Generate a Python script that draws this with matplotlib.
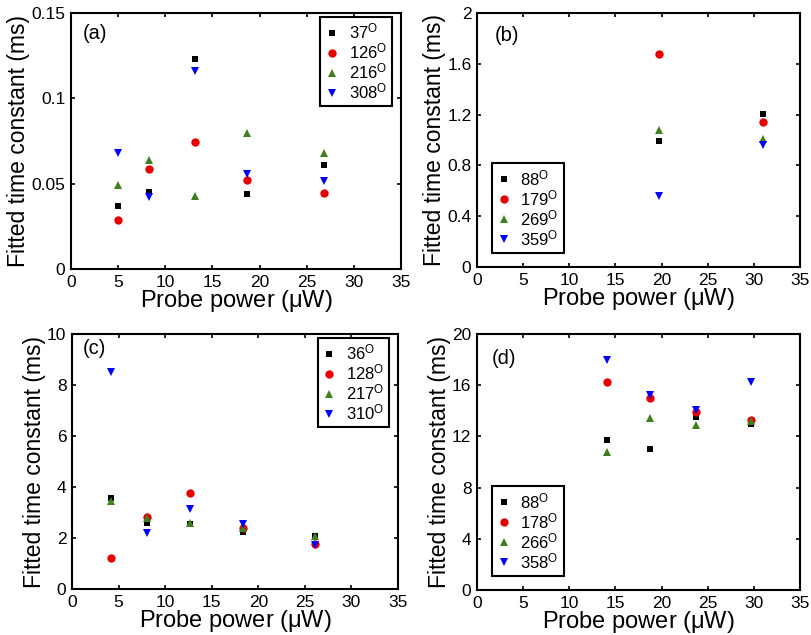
import matplotlib
matplotlib.use("Agg")
import matplotlib.pyplot as plt

plt.rcParams['font.family'] = ['Liberation Sans', 'DejaVu Sans']
plt.rcParams['mathtext.fontset'] = 'custom'
plt.rcParams['mathtext.rm'] = 'Liberation Sans'
plt.rcParams['mathtext.it'] = 'Liberation Sans'

# --- data ---
# panel (a)
a_x = [5.0, 8.3, 13.2, 18.7, 26.8]
a_37 = [0.037, 0.045, 0.123, 0.044, 0.061]
a_126 = [0.0286, 0.0586, 0.0744, 0.052, 0.0448]
a_216 = [0.049, 0.064, 0.0427, 0.0795, 0.0677]
a_308 = [0.068, 0.042, 0.116, 0.0559, 0.0514]
a_angles = ['37', '126', '216', '308']
a_yticks = [0, 0.05, 0.1, 0.15]
a_yticklabels = ['0', '0.05', '0.1', '0.15']

# panel (b)
b_x = [19.74, 30.94]
b_88 = [0.99, 1.207]
b_179 = [1.677, 1.139]
b_269 = [1.076, 1.008]
b_359 = [0.556, 0.958]
b_angles = ['88', '179', '269', '359']
b_yticks = [0, 0.4, 0.8, 1.2, 1.6, 2]
b_yticklabels = ['0', '0.4', '0.8', '1.2', '1.6', '2']

# panel (c)
c_x = [4.24, 8.08, 12.63, 18.34, 26.1]
c_36 = [3.56, 2.6, 2.54, 2.23, 2.07]
c_128 = [1.22, 2.84, 3.76, 2.41, 1.78]
c_217 = [3.46, 2.8, 2.58, 2.38, 2.09]
c_310 = [8.51, 2.21, 3.13, 2.55, 1.73]
c_angles = ['36', '128', '217', '310']
c_yticks = [0, 2, 4, 6, 8, 10]
c_yticklabels = ['0', '2', '4', '6', '8', '10']

# panel (d)
d_x = [14.14, 18.74, 23.76, 29.68]
d_88 = [11.68, 11.0, 13.48, 12.96]
d_178 = [16.22, 14.97, 13.87, 13.3]
d_266 = [10.82, 13.4, 12.9, 13.19]
d_358 = [17.97, 15.25, 14.08, 16.22]
d_angles = ['88', '178', '266', '358']
d_yticks = [0, 4, 8, 12, 16, 20]
d_yticklabels = ['0', '4', '8', '12', '16', '20']

x_ticks = [0, 5, 10, 15, 20, 25, 30, 35]

# --- styles ---
styles = [
    dict(marker='s', color='black', ms=5),
    dict(marker='o', color='#e60000', ms=6),
    dict(marker='^', color='#3f7f1f', ms=6),
    dict(marker='v', color='#0000ff', ms=6),
]

W, H = 811, 635
fig = plt.figure(figsize=(W / 100, H / 100), dpi=100)


def make_ax(left, top, right, bottom):
    return fig.add_axes([left / W, 1 - bottom / H, (right - left) / W, (bottom - top) / H])


def draw_panel(ax, x, series, angles, yticks, yticklabels, tag, tag_pos, leg_loc, leg_anchor):
    for ys, ang, st in zip(series, angles, styles):
        ax.plot(x, ys, linestyle='none', marker=st['marker'], color=st['color'],
                markersize=st['ms'], markeredgewidth=0,
                label=ang + r'$^{\mathrm{O}}$')
    ax.set_xlim(0, 35)
    ax.set_ylim(yticks[0], yticks[-1])
    ax.set_xticks(x_ticks)
    ax.set_yticks(yticks)
    ax.set_yticklabels(yticklabels)
    ax.tick_params(direction='in', length=3, width=1.2, top=True, right=True,
                   labelsize=12.5, pad=4)
    for sp in ax.spines.values():
        sp.set_linewidth(1.5)
    ax.set_xlabel(r'Probe power ($\mu$W)', fontsize=17, labelpad=-1)
    ax.set_ylabel('Fitted time constant (ms)', fontsize=16.5, labelpad=1)
    ax.text(tag_pos[0], tag_pos[1], tag, transform=ax.transAxes, fontsize=14.5,
            va='center', ha='left')
    leg = ax.legend(loc=leg_loc, bbox_to_anchor=leg_anchor, fontsize=12,
                    handlelength=0.8, handletextpad=0.6, labelspacing=0.0,
                    borderpad=0.3, fancybox=False, framealpha=1,
                    edgecolor='black', numpoints=1, borderaxespad=0)
    leg.get_frame().set_linewidth(1.5)


ax_a = make_ax(71, 13, 401, 269)
draw_panel(ax_a, a_x, [a_37, a_126, a_216, a_308], a_angles, a_yticks, a_yticklabels,
           '(a)', (0.035, 0.92), 'upper right', (0.973, 0.985))

ax_b = make_ax(477, 13, 800, 267)
draw_panel(ax_b, b_x, [b_88, b_179, b_269, b_359], b_angles, b_yticks, b_yticklabels,
           '(b)', (0.055, 0.913), 'lower left', (0.046, 0.055))

ax_c = make_ax(72, 334, 398, 589)
draw_panel(ax_c, c_x, [c_36, c_128, c_217, c_310], c_angles, c_yticks, c_yticklabels,
           '(c)', (0.034, 0.945), 'upper right', (0.973, 0.985))

ax_d = make_ax(477, 334, 800, 590)
draw_panel(ax_d, d_x, [d_88, d_178, d_266, d_358], d_angles, d_yticks, d_yticklabels,
           '(d)', (0.046, 0.906), 'lower left', (0.046, 0.055))

fig.savefig('out.png', dpi=100)
